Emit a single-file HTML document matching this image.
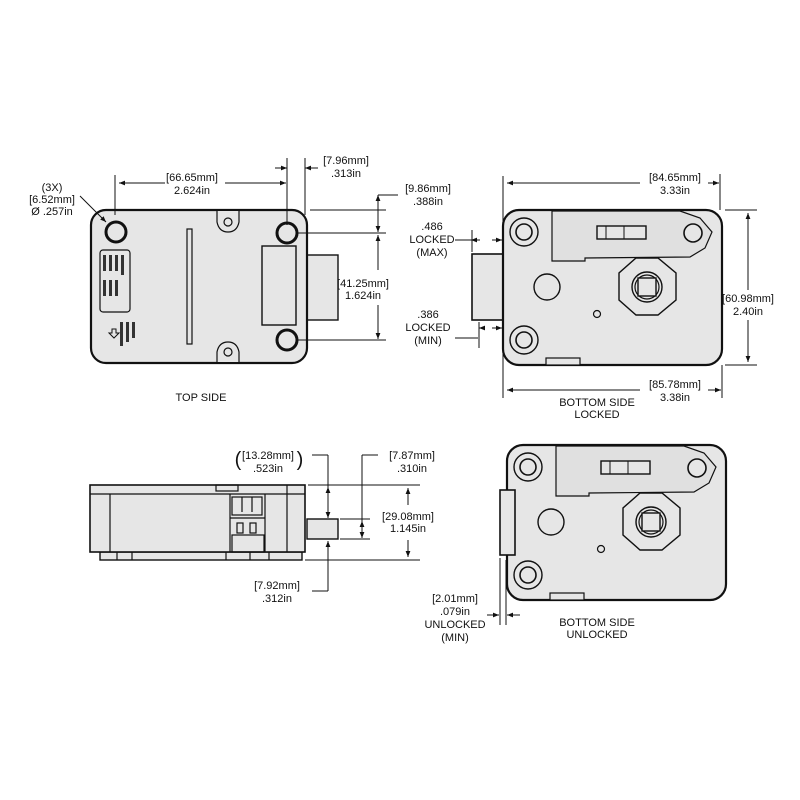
<!DOCTYPE html>
<html><head><meta charset="utf-8"><style>
html,body{margin:0;padding:0;background:#fff}
svg{display:block}
text{font-family:"Liberation Sans",Arial,sans-serif;font-size:11px;fill:#111;text-anchor:middle}
.b{font-weight:bold}
</style></head><body>
<svg width="800" height="800" viewBox="0 0 800 800" xmlns="http://www.w3.org/2000/svg">
<defs>
<marker id="a" viewBox="0 0 10 10" refX="10" refY="5" markerWidth="6" markerHeight="6" orient="auto-start-reverse"><path d="M0,1 L10,5 L0,9 z" fill="#111"/></marker>
<g id="plate">
 <rect x="503" y="210" width="219" height="155" rx="16" fill="#e6e6e6" stroke="#111" stroke-width="2.2"/>
 <path d="M552,211 L680,211 L700,218 L712,232 L705,248 L690,257 L585,258 L585,261 L552,261 Z" fill="#e0e0e0" stroke="#111" stroke-width="1.2"/>
 <circle cx="524" cy="232" r="14" fill="#e6e6e6" stroke="#111" stroke-width="1.4"/>
 <circle cx="524" cy="232" r="8" fill="#e6e6e6" stroke="#111" stroke-width="1.6"/>
 <circle cx="524" cy="340" r="14" fill="#e6e6e6" stroke="#111" stroke-width="1.4"/>
 <circle cx="524" cy="340" r="8" fill="#e6e6e6" stroke="#111" stroke-width="1.6"/>
 <circle cx="693" cy="233" r="9" fill="#e6e6e6" stroke="#111" stroke-width="1.6"/>
 <rect x="597" y="226" width="49" height="13" fill="#e6e6e6" stroke="#111" stroke-width="1.4"/>
 <line x1="606" y1="226" x2="606" y2="239" stroke="#111"/><line x1="624" y1="226" x2="624" y2="239" stroke="#111"/>
 <circle cx="547" cy="287" r="13" fill="#e6e6e6" stroke="#111" stroke-width="1.4"/>
 <path d="M636,258 L658,258 L676,273 L676,300 L658,315 L636,315 L619,300 L619,273 Z" fill="#e6e6e6" stroke="#111" stroke-width="1.4"/>
 <circle cx="647" cy="287" r="15" fill="#e6e6e6" stroke="#111" stroke-width="1.4"/>
 <circle cx="647" cy="287" r="12" fill="#e6e6e6" stroke="#111" stroke-width="1.2"/>
 <rect x="638" y="278" width="18" height="18" fill="#e6e6e6" stroke="#111" stroke-width="1.4"/>
 <circle cx="597" cy="314" r="3.5" fill="#e6e6e6" stroke="#111" stroke-width="1.2"/>
 <rect x="546" y="358" width="34" height="7" fill="#e6e6e6" stroke="#111" stroke-width="1.2"/>
</g>
</defs>

<!-- TOP SIDE -->
<rect x="307" y="255" width="31" height="65" fill="#e6e6e6" stroke="#111" stroke-width="1.4"/>
<rect x="91" y="210" width="216" height="153" rx="15" fill="#e6e6e6" stroke="#111" stroke-width="2.2"/>
<path d="M217,211 L217,222 Q219,232 228,232 Q237,232 239,222 L239,211" fill="#e6e6e6" stroke="#111" stroke-width="1.2"/>
<circle cx="228" cy="222" r="4" fill="none" stroke="#111" stroke-width="1.2"/>
<path d="M217,362 L217,352 Q219,342 228,342 Q237,342 239,352 L239,362" fill="#e6e6e6" stroke="#111" stroke-width="1.2"/>
<circle cx="228" cy="352" r="4" fill="none" stroke="#111" stroke-width="1.2"/>
<circle cx="116" cy="232" r="10" fill="#e6e6e6" stroke="#111" stroke-width="3"/>
<circle cx="287" cy="233" r="10" fill="#e6e6e6" stroke="#111" stroke-width="3"/>
<circle cx="287" cy="340" r="10" fill="#e6e6e6" stroke="#111" stroke-width="3"/>
<rect x="262" y="246" width="34" height="79" fill="#e6e6e6" stroke="#111" stroke-width="1.4"/>
<rect x="187" y="229" width="5" height="115" fill="#e6e6e6" stroke="#111" stroke-width="1.2"/>
<rect x="100" y="250" width="30" height="62" rx="3" fill="#e6e6e6" stroke="#111" stroke-width="1.2"/>
<g fill="#333"><rect x="103" y="255" width="3" height="16"/><rect x="109" y="255" width="3" height="16"/><rect x="115" y="255" width="3" height="16"/><rect x="121" y="255" width="3" height="20"/><rect x="103" y="280" width="3" height="16"/><rect x="109" y="280" width="3" height="16"/><rect x="115" y="280" width="3" height="16"/>
<rect x="120" y="322" width="3" height="24"/><rect x="126" y="322" width="3" height="20"/><rect x="132" y="322" width="3" height="16"/></g>
<path d="M107,328 h4 v-3 l5,5 l-5,5 v-3 h-4 z" fill="none" stroke="#111" transform="rotate(90 111 333)"/>
<g stroke="#111" stroke-width="1" fill="none">
<line x1="115" y1="175" x2="115" y2="215"/><line x1="287" y1="158" x2="287" y2="225"/><line x1="305" y1="158" x2="305" y2="215"/>
<line x1="119" y1="183" x2="165" y2="183" marker-start="url(#a)"/><line x1="225" y1="183" x2="286" y2="183" marker-end="url(#a)"/>
<line x1="275" y1="168" x2="287" y2="168" marker-end="url(#a)"/><line x1="318" y1="168" x2="305" y2="168" marker-end="url(#a)"/>
<line x1="310" y1="210" x2="386" y2="210"/><line x1="297" y1="233" x2="386" y2="233"/><line x1="297" y1="340" x2="386" y2="340"/>
<line x1="378" y1="195" x2="378" y2="232" marker-start="url(#a)" marker-end="url(#a)"/><line x1="378" y1="195" x2="398" y2="195"/>
<line x1="378" y1="235" x2="378" y2="270" marker-start="url(#a)"/><line x1="378" y1="305" x2="378" y2="339" marker-end="url(#a)"/>
<line x1="80" y1="196" x2="106" y2="222" marker-end="url(#a)"/>
</g>
<text x="52" y="191">(3X)</text><text x="52" y="203">[6.52mm]</text><text x="52" y="215">Ø .257in</text>
<text x="192" y="181">[66.65mm]</text><text x="192" y="194">2.624in</text>
<text x="346" y="164">[7.96mm]</text><text x="346" y="177">.313in</text>
<text x="428" y="192">[9.86mm]</text><text x="428" y="205">.388in</text>
<text x="363" y="287">[41.25mm]</text><text x="363" y="299">1.624in</text>
<text x="201" y="401">TOP SIDE</text>

<!-- BOTTOM SIDE LOCKED -->
<rect x="472" y="254" width="40" height="66" fill="#e6e6e6" stroke="#111" stroke-width="1.6"/>
<line x1="510" y1="275" x2="510" y2="300" stroke="#111" stroke-width="2"/>
<use href="#plate"/>
<g stroke="#111" stroke-width="1" fill="none">
<line x1="503" y1="176" x2="503" y2="255"/><line x1="720" y1="174" x2="720" y2="210"/><line x1="722" y1="365" x2="722" y2="398"/><line x1="503" y1="320" x2="503" y2="398"/>
<line x1="507" y1="183" x2="640" y2="183" marker-start="url(#a)"/><line x1="708" y1="183" x2="719" y2="183" marker-end="url(#a)"/>
<line x1="507" y1="390" x2="640" y2="390" marker-start="url(#a)"/><line x1="708" y1="390" x2="721" y2="390" marker-end="url(#a)"/>
<line x1="725" y1="210" x2="757" y2="210"/><line x1="725" y1="365" x2="757" y2="365"/>
<line x1="748" y1="213" x2="748" y2="290" marker-start="url(#a)"/><line x1="748" y1="320" x2="748" y2="362" marker-end="url(#a)"/>
<line x1="472" y1="230" x2="472" y2="252"/><line x1="478" y1="240" x2="455" y2="240"/>
<line x1="480" y1="240" x2="471" y2="240" marker-end="url(#a)"/><line x1="492" y1="240" x2="502" y2="240" marker-end="url(#a)"/>
<line x1="478" y1="338" x2="455" y2="338"/><line x1="479" y1="322" x2="479" y2="348"/>
<line x1="485" y1="328" x2="479" y2="328" marker-end="url(#a)"/><line x1="492" y1="328" x2="502" y2="328" marker-end="url(#a)"/>
</g>
<text x="675" y="181">[84.65mm]</text><text x="675" y="194">3.33in</text>
<text x="675" y="388">[85.78mm]</text><text x="675" y="401">3.38in</text>
<text x="748" y="302">[60.98mm]</text><text x="748" y="315">2.40in</text>
<text x="432" y="230">.486</text><text x="432" y="243">LOCKED</text><text x="432" y="256">(MAX)</text>
<text x="428" y="318">.386</text><text x="428" y="331">LOCKED</text><text x="428" y="344">(MIN)</text>
<text x="597" y="406">BOTTOM SIDE</text><text x="597" y="418">LOCKED</text>

<!-- SIDE VIEW -->
<rect x="307" y="519" width="31" height="20" fill="#e6e6e6" stroke="#111" stroke-width="1.4"/>
<rect x="100" y="552" width="202" height="8" fill="#e6e6e6" stroke="#111" stroke-width="1.4"/>
<rect x="90" y="485" width="215" height="67" fill="#e6e6e6" stroke="#111" stroke-width="1.6"/>
<g stroke="#111" stroke-width="1.2" fill="none">
<line x1="90" y1="494" x2="305" y2="494"/><line x1="110" y1="494" x2="110" y2="552"/><line x1="230" y1="494" x2="230" y2="552"/><line x1="265" y1="494" x2="265" y2="552"/><line x1="287" y1="485" x2="287" y2="552"/>
<rect x="216" y="485" width="22" height="6"/>
<rect x="232" y="497" width="30" height="18"/><line x1="242" y1="497" x2="242" y2="512"/><line x1="252" y1="497" x2="252" y2="512"/>
<line x1="230" y1="518" x2="265" y2="518"/><rect x="237" y="523" width="6" height="10"/><rect x="250" y="523" width="6" height="10"/>
<rect x="232" y="535" width="32" height="17"/>
<line x1="117" y1="552" x2="117" y2="560"/><line x1="132" y1="552" x2="132" y2="560"/><line x1="226" y1="552" x2="226" y2="560"/><line x1="250" y1="552" x2="250" y2="560"/><line x1="269" y1="552" x2="269" y2="560"/>
</g>
<g stroke="#111" stroke-width="1" fill="none">
<line x1="308" y1="485" x2="420" y2="485"/><line x1="340" y1="519" x2="370" y2="519"/><line x1="340" y1="539" x2="370" y2="539"/><line x1="305" y1="560" x2="420" y2="560"/>
<line x1="312" y1="455" x2="328" y2="455"/><line x1="328" y1="455" x2="328" y2="518" marker-end="url(#a)"/><line x1="328" y1="498" x2="328" y2="487" marker-end="url(#a)"/>
<line x1="328" y1="541" x2="328" y2="558" marker-start="url(#a)"/><line x1="328" y1="558" x2="328" y2="591"/><line x1="328" y1="591" x2="312" y2="591"/>
<line x1="362" y1="455" x2="378" y2="455"/><line x1="362" y1="455" x2="362" y2="538" marker-end="url(#a)"/><line x1="362" y1="528" x2="362" y2="521" marker-end="url(#a)"/>
<line x1="408" y1="488" x2="408" y2="505" marker-start="url(#a)"/><line x1="408" y1="540" x2="408" y2="557" marker-end="url(#a)"/>
</g>
<text x="268" y="459">[13.28mm]</text><text x="268" y="472">.523in</text>
<text x="238" y="466" style="font-size:20px">(</text><text x="300" y="466" style="font-size:20px">)</text>
<text x="412" y="459">[7.87mm]</text><text x="412" y="472">.310in</text>
<text x="408" y="520">[29.08mm]</text><text x="408" y="532">1.145in</text>
<text x="277" y="589">[7.92mm]</text><text x="277" y="602">.312in</text>

<!-- BOTTOM SIDE UNLOCKED -->
<use href="#plate" transform="translate(4,235)"/>
<rect x="500" y="490" width="15" height="65" fill="#e6e6e6" stroke="#111" stroke-width="1.6"/>
<g stroke="#111" stroke-width="1" fill="none">
<line x1="500" y1="558" x2="500" y2="625"/><line x1="506" y1="560" x2="506" y2="625"/>
<line x1="487" y1="615" x2="499" y2="615" marker-end="url(#a)"/><line x1="520" y1="615" x2="507" y2="615" marker-end="url(#a)"/>
</g>
<text x="455" y="602">[2.01mm]</text><text x="455" y="615">.079in</text><text x="455" y="628">UNLOCKED</text><text x="455" y="641">(MIN)</text>
<text x="597" y="626">BOTTOM SIDE</text><text x="597" y="638">UNLOCKED</text>
</svg>
</body></html>
